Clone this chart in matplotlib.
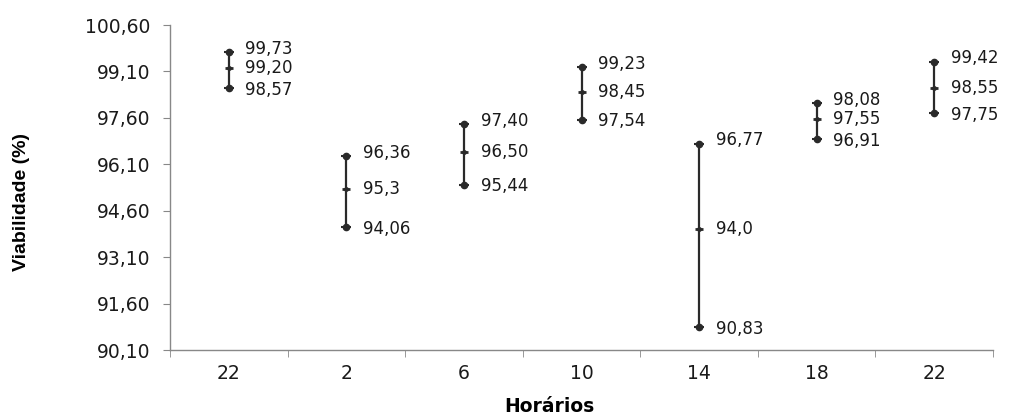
import numpy as np
import matplotlib
matplotlib.use('Agg')
from matplotlib import pyplot as plt

plt.rcParams['font.family'] = ['DejaVu Sans']

horarios = ['22', '2', '6', '10', '14', '18', '22']
maximo = [99.73, 96.36, 97.40, 99.23, 96.77, 98.08, 99.42]
media = [99.20, 95.3, 96.50, 98.45, 94.0, 97.55, 98.55]
minimo = [98.57, 94.06, 95.44, 97.54, 90.83, 96.91, 97.75]
lbl_max = ['99,73', '96,36', '97,40', '99,23', '96,77', '98,08', '99,42']
lbl_med = ['99,20', '95,3', '96,50', '98,45', '94,0', '97,55', '98,55']
lbl_min = ['98,57', '94,06', '95,44', '97,54', '90,83', '96,91', '97,75']
yticks = [90.10, 91.60, 93.10, 94.60, 96.10, 97.60, 99.10, 100.60]

fig = plt.figure(figsize=(10.17, 4.2), dpi=100)
ax = fig.add_axes([170/1017, 70/420, 823/1017, 325/420])

x = np.arange(len(horarios))
cor = '#2a2a2a'
ax.vlines(x, minimo, maximo, color=cor, lw=1.6)
for serie in (maximo, minimo):
    ax.plot(x, serie, 'o', color=cor, ms=4.5, ls='none')
    ax.plot(x, serie, '_', color=cor, ms=7, mew=1.5, ls='none')
ax.plot(x, media, '_', color=cor, ms=6, mew=2, ls='none')
ax.plot(x, media, 'o', color=cor, ms=2.5, ls='none')

# small vertical nudges so the stacked labels do not collide
for i in x:
    for val, txt, dy in ((maximo[i], lbl_max[i], 2.2), (media[i], lbl_med[i], 0),
                         (minimo[i], lbl_min[i], -1.2)):
        ax.annotate(txt, (i, val), xytext=(12, dy), textcoords='offset points',
                    va='center', ha='left', fontsize=12, color='#1a1a1a')

ax.set_xlim(-0.5, len(horarios) - 0.5)
ax.set_ylim(90.10, 100.60)
ax.set_yticks(yticks)
ax.set_yticklabels([f'{v:.2f}'.replace('.', ',') for v in yticks], fontsize=13.5, color='#1a1a1a')
ax.set_xticks(x)
ax.set_xticklabels(horarios, fontsize=13.5, color='#1a1a1a')
ax.set_xticks(np.arange(-0.5, len(horarios)), minor=True)
ax.tick_params(axis='x', which='major', length=0, pad=10)
ax.tick_params(axis='x', which='minor', length=5, color='#888888', direction='out')
ax.tick_params(axis='y', length=5, color='#888888', pad=9)

for s in ['top', 'right']:
    ax.spines[s].set_visible(False)
for s in ['left', 'bottom']:
    ax.spines[s].set_color('#888888')
    ax.spines[s].set_linewidth(1)

fig.text(549/1017, 1 - 406/420, 'Horários', ha='center', va='center', fontsize=13.5,
         fontweight='bold')
fig.text(22/1017, 1 - 202/420, 'Viabilidade (%)', ha='center', va='center', rotation=90,
         fontsize=14, fontweight='bold', family=['Liberation Sans Narrow', 'Liberation Sans'])

fig.savefig('out.png', dpi=100)
